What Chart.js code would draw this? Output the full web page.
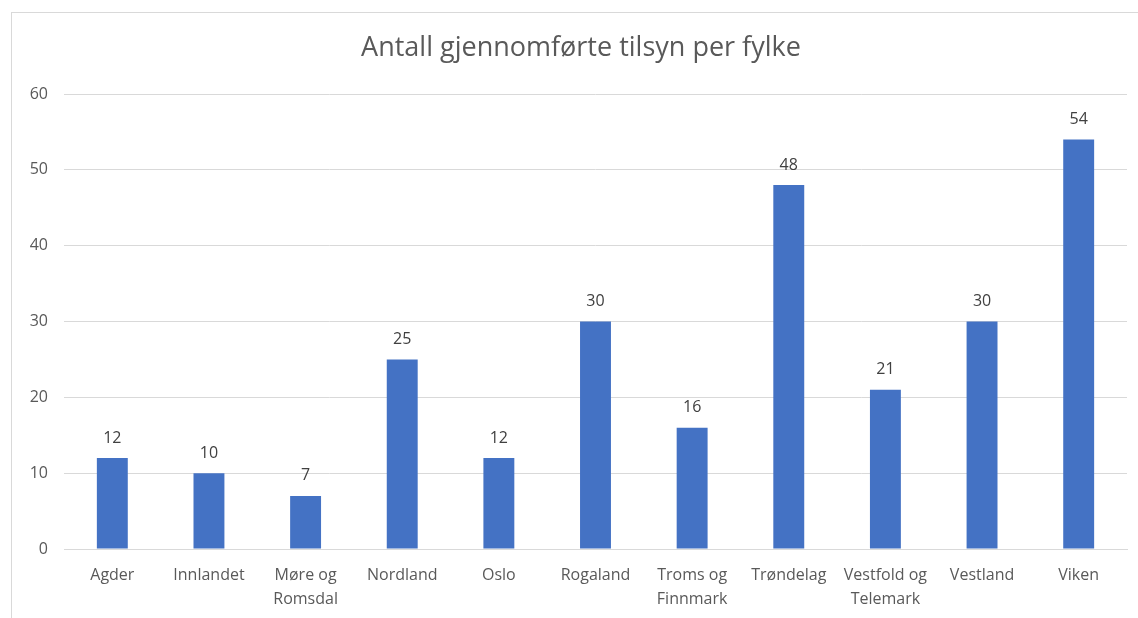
<!DOCTYPE html>
<html>
<head>
<meta charset="utf-8">
<script src="https://cdn.jsdelivr.net/npm/chart.js@4/dist/chart.umd.min.js"></script>
<style>
    html, body { margin: 0; padding: 0; background: #fff; }
    #wrap { position: relative; width: 1138px; height: 618px; }
    #frame { position: absolute; left: 11px; top: 12px; width: 1140px; height: 620px; border: 1px solid #d9d9d9; box-sizing: border-box; }
    canvas { position: absolute; left: 0; top: 0; }
</style>
</head>
<body>
<div id="wrap">
    <div id="frame"></div>
    <canvas id="chart" width="1138" height="618"></canvas>
</div>
<script>
const title = 'Antall gjennomførte tilsyn per fylke';
const fylker = [
    'Agder', 'Innlandet', ['Møre og', 'Romsdal'], 'Nordland', 'Oslo', 'Rogaland',
    ['Troms og', 'Finnmark'], 'Trøndelag', ['Vestfold og', 'Telemark'], 'Vestland', 'Viken'
];
const tilsyn = [12, 10, 7, 25, 12, 30, 16, 48, 21, 30, 54];
const yTicks = [0, 10, 20, 30, 40, 50, 60];

const textColor = '#595959';
const fontFamily = '"Open Sans", Lato, sans-serif';

// values over each bar + title centred on the frame (not on the canvas)
const barLabels = {
    id: 'barLabels',
    afterDatasetsDraw(chart) {
        const ctx = chart.ctx;
        const meta = chart.getDatasetMeta(0);
        ctx.save();
        ctx.font = '16px ' + fontFamily;
        ctx.fillStyle = '#404040';
        ctx.textAlign = 'center';
        ctx.textBaseline = 'middle';
        meta.data.forEach((bar, i) => {
            ctx.fillText(tilsyn[i], bar.x, bar.y - 20);
        });
        ctx.font = '27px ' + fontFamily;
        ctx.fillStyle = textColor;
        ctx.fillText(title, 581, 48);
        ctx.restore();
    }
};

const config = {
    type: 'bar',
    data: {
        labels: fylker,
        datasets: [{
            data: tilsyn,
            backgroundColor: '#4472C4',
            categoryPercentage: 1,
            barPercentage: 0.32
        }]
    },
    options: {
        responsive: false,
        animation: false,
        layout: { padding: { left: 0, right: 11, top: 94, bottom: 0 } },
        plugins: {
            legend: { display: false },
            tooltip: { enabled: false },
            title: { display: false }
        },
        scales: {
            x: {
                grid: { display: false, drawTicks: false },
                border: { color: '#d9d9d9' },
                ticks: {
                    color: textColor,
                    font: { family: fontFamily, size: 16, lineHeight: 1.5 },
                    padding: 14,
                    maxRotation: 0,
                    autoSkip: false
                },
                afterFit(scale) { scale.height = 69; }
            },
            y: {
                min: 0,
                max: 60,
                grid: { color: '#d9d9d9', drawTicks: false },
                border: { display: false },
                ticks: {
                    color: textColor,
                    font: { family: fontFamily, size: 16 },
                    padding: 16,
                    stepSize: 10,
                    callback: (v) => yTicks.includes(v) ? v : ''
                },
                afterFit(scale) { scale.width = 64; }
            }
        }
    },
    plugins: [barLabels]
};

const chart = new Chart(document.getElementById('chart'), config);
</script>
</body>
</html>
